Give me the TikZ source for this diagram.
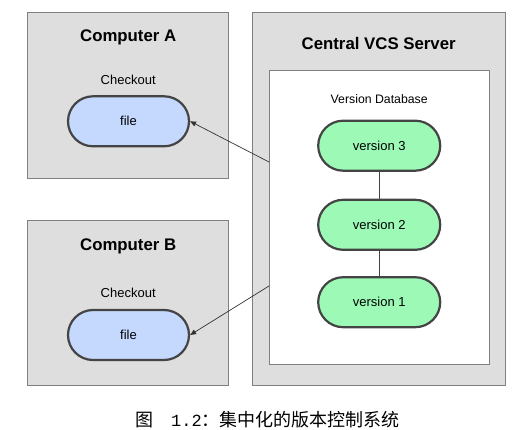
\documentclass[tikz,border=0pt]{standalone}
\usepackage{fontspec}
\setmainfont{Liberation Sans}
\newfontfamily\cjk{Noto Sans CJK SC}
\newfontfamily\capmono{Liberation Mono}
\usetikzlibrary{arrows.meta}
\definecolor{boxgrey}{HTML}{DEDEDE}
\definecolor{boxline}{HTML}{808080}
\definecolor{pillline}{HTML}{444444}
\definecolor{fileblue}{HTML}{C5D8FE}
\definecolor{vergreen}{HTML}{9CFAB6}
\tikzset{
  greybox/.style={draw=boxline, fill=boxgrey, line width=0.9pt},
  whitebox/.style={draw=boxline, fill=white, line width=0.9pt},
  pill/.style={draw=pillline, line width=2.2pt, rounded corners=25pt, minimum width=121pt, minimum height=50pt, inner sep=0pt, font=\fontsize{13}{15}\selectfont},
  filepill/.style={pill, fill=fileblue},
  verpill/.style={pill, fill=vergreen, minimum width=122pt},
  title/.style={font=\fontsize{16.8}{19}\selectfont\bfseries},
  label/.style={font=\fontsize{13}{15}\selectfont},
  arr/.style={draw=black!80, line width=0.7pt, -{Triangle[length=6pt,width=5pt]}},
  link/.style={draw=pillline, line width=1pt}
}
\begin{document}
\begin{tikzpicture}[x=1pt,y=-1pt]
\useasboundingbox (0,0) rectangle (521,430);
% boxes
\node[greybox, minimum width=201pt, minimum height=165.6pt, inner sep=0pt] (compA) at (128.2,95.5) {};
\node[greybox, minimum width=201pt, minimum height=165pt, inner sep=0pt] (compB) at (128.2,303.2) {};
\node[greybox, minimum width=252.6pt, minimum height=372.3pt, inner sep=0pt] (server) at (379,198.8) {};
\node[whitebox, minimum width=220.3pt, minimum height=293.6pt, inner sep=0pt] (db) at (379.2,217.5) {};
% titles
\node[title] (tA) at (128.2,37) {Computer A};
\node[title] (tB) at (128.2,246.7) {Computer B};
\node[title] (tS) at (378.7,43) {Central VCS Server};
\node[label] (cA) at (128.2,80) {Checkout};
\node[label] (cB) at (128.2,292.7) {Checkout};
\node[label, font=\fontsize{12.3}{14}\selectfont] (vd) at (379.2,99.5) {Version Database};
% pills
\node[filepill] (fA) at (128.5,121.3) {file};
\node[filepill] (fB) at (128.5,335) {file};
\node[verpill] (v3) at (379.2,145.7) {version 3};
\node[verpill] (v2) at (379.2,224.8) {version 2};
\node[verpill] (v1) at (379.2,302.2) {version 1};
% links
\draw[link] (v3) -- (v2);
\draw[link] (v2) -- (v1);
% arrows
\coordinate (sA) at (269,162);
\coordinate (sB) at (269,286);
\draw[arr] (sA) -- (fA.east);
\draw[arr] (sB) -- (fB.east);
% caption
\node[font=\cjk\fontsize{18}{20}\selectfont, inner sep=0pt] (cap) at (267.5,420) {图\hspace{18pt}{\capmono\fontsize{17}{20}\selectfont 1.2}：集中化的版本控制系统};
\end{tikzpicture}
\end{document}
